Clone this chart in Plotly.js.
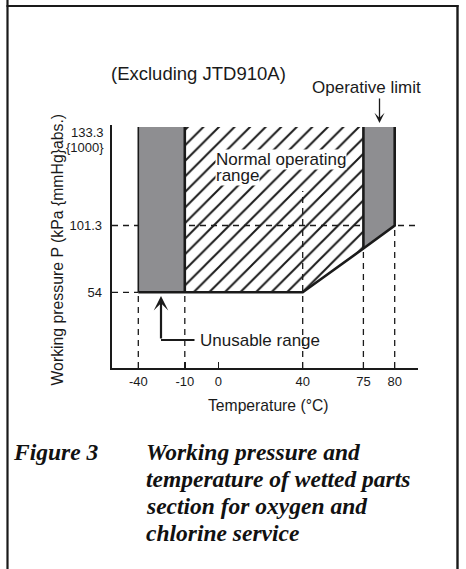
<!DOCTYPE html>
<html>
<head>
<meta charset="utf-8">
<script src="https://cdn.plot.ly/plotly-3.0.1.min.js"></script>
<style>html,body{margin:0;padding:0;background:#fff;}#chart{width:466px;height:569px;}</style>
</head>
<body>
<div id="chart"></div>
<script>
// ---- Printed tick values (the chart is schematic: axes are not to scale) ----
const tempTicks   = [-40, -10, 0, 40, 75, 80];
const tempLabels  = ['-40', '-10', '0', '40', '75', '80'];
const tempAxis    = [26.3, 72.8, 106.3, 190.7, 251.4, 282.7];   // schematic axis position of each printed tick
const pressTicks  = [54, 101.3, 133.3];
const pressLabels = ['54', '101.3', '133.3'];
const pressAxis   = [75.7, 142.5, 241];                         // schematic axis position of each printed tick

// ---- Regions (temperature °C, pressure kPa) ----
const normalT = [-10, 40, 75, 75, -10];
const normalP = [54, 54, 85, 133.3, 133.3];
const unusableLowT = [-40, -10, -10, -40];
const unusableLowP = [54, 54, 133.3, 133.3];
const operativeT = [75, 80, 80, 75];
const operativeP = [85, 101.3, 133.3, 133.3];
const boundaryT = [-40, 40, 75, 80, 80];
const boundaryP = [54, 54, 85, 101.3, 133.3];
const guideTemps = [-40, -10, 40, 75, 80];
const guideTops  = [54, 54, 112.5, 85, 101.3];

function interp(v, ks, ps) {
  let i = 0;
  while (i < ks.length - 2 && v > ks[i + 1]) i++;
  return ps[i] + (v - ks[i]) * (ps[i + 1] - ps[i]) / (ks[i + 1] - ks[i]);
}
const tx = t => interp(t, tempTicks, tempAxis);
const py = p => interp(p, pressTicks, pressAxis);

const xRange = [0, 306], yRange = [0, 243];
const L = 112, T = 125, W = 306, H = 243;
const X = p => (p - L) / W;          // pixel -> paper (for text placement)
const Y = p => (T + H - p) / H;

const ink = '#1a1a1a';
const gray = '#8e8e91';
const traces = [];

// hatched normal operating range
traces.push({
  x: normalT.map(tx), y: normalP.map(py), mode: 'lines', fill: 'toself',
  fillcolor: 'white', line: {width: 0},
  fillpattern: {shape: '/', size: 11, solidity: 0.18, fgcolor: ink, bgcolor: 'white'},
  hoverinfo: 'skip', showlegend: false
});

// dashed guide lines
const dash = {color: ink, width: 1.3, dash: '6px,5px'};
guideTemps.forEach((t, i) => {
  traces.push({x: [tx(t), tx(t)], y: [yRange[0], py(guideTops[i])], mode: 'lines', line: dash, hoverinfo: 'skip', showlegend: false});
});
traces.push({x: [xRange[0], tx(-40)], y: [py(54), py(54)], mode: 'lines', line: dash, hoverinfo: 'skip', showlegend: false});
traces.push({x: [xRange[0], xRange[1]], y: [py(101.3), py(101.3)], mode: 'lines', line: dash, hoverinfo: 'skip', showlegend: false});

// gray unusable / operative-limit regions
[[unusableLowT, unusableLowP], [operativeT, operativeP]].forEach(([ts, ps]) => {
  traces.push({x: ts.map(tx), y: ps.map(py), mode: 'lines', fill: 'toself', fillcolor: gray,
    line: {width: 0}, hoverinfo: 'skip', showlegend: false});
});

// boundary lines
const thick = {color: ink, width: 2.6};
traces.push({x: [tx(-40), tx(-40)], y: [py(54), py(133.3)], mode: 'lines', line: {color: ink, width: 1.6}, hoverinfo: 'skip', showlegend: false});
traces.push({x: [tx(-10), tx(-10)], y: [py(54), py(133.3)], mode: 'lines', line: thick, hoverinfo: 'skip', showlegend: false});
traces.push({x: [tx(75), tx(75)], y: [py(85), py(133.3)], mode: 'lines', line: thick, hoverinfo: 'skip', showlegend: false});
traces.push({x: boundaryT.map(tx), y: boundaryP.map(py), mode: 'lines', line: thick, hoverinfo: 'skip', showlegend: false});

const sans = 'Liberation Sans, Arial, Helvetica, sans-serif';
const serif = 'Liberation Serif, Times New Roman, serif';
const txt = (text, x, y, size, opts) => Object.assign({
  text, x: X(x), y: Y(y), xref: 'paper', yref: 'paper', showarrow: false,
  xanchor: 'left', yanchor: 'middle', font: {family: sans, size, color: ink}, borderpad: 0
}, opts || {});
const capFont = {family: serif, size: 23.5, color: '#111'};

const annotations = [
  txt('(Excluding JTD910A)', 110, 74, 18.5),
  txt('Operative limit', 366, 87, 17, {xanchor: 'center'}),
  {text: '', x: X(379.5), y: Y(123), xref: 'paper', yref: 'paper', showarrow: true,
   ax: 0, ay: -26, arrowhead: 3, arrowwidth: 1.3, arrowsize: 1.3, arrowcolor: ink},
  txt('range', 215, 175.5, 17, {bgcolor: 'white'}),
  txt('Normal operating', 215, 159, 17, {bgcolor: 'white'}),
  txt('Unusable range', 199, 340, 17),
  {text: '', x: X(161), y: Y(296), xref: 'paper', yref: 'paper', showarrow: true,
   ax: 0, ay: 44, arrowhead: 3, arrowwidth: 2.2, arrowsize: 1.1, arrowcolor: ink},
  txt(pressLabels[2], 105, 132.5, 13, {xanchor: 'right'}),
  txt('{1000}', 105, 147.5, 13, {xanchor: 'right'}),
  txt('Temperature (°C)', 268, 405.5, 15.7, {xanchor: 'center'}),
  txt('Working pressure P (kPa {mmHg}abs.)', 56.5, 250, 15.8, {xanchor: 'center', textangle: -90}),
  txt('<b><i>Figure 3</i></b>', 12, 452, 23.5, {font: capFont}),
  txt('<b><i>Working pressure and</i></b>', 145, 452, 23.5, {font: capFont}),
  txt('<b><i>temperature of wetted parts</i></b>', 145, 479, 23.5, {font: capFont}),
  txt('<b><i>section for oxygen and</i></b>', 145, 506, 23.5, {font: capFont}),
  txt('<b><i>chlorine service</i></b>', 145, 532.5, 23.5, {font: capFont})
];

const line = (x0, y0, x1, y1, w) => ({type: 'line', xref: 'paper', yref: 'paper',
  x0: X(x0), y0: Y(y0), x1: X(x1), y1: Y(y1), line: {color: ink, width: w}});
const shapes = [
  line(161, 340, 194.5, 340, 2.2),
  line(7.5, 0, 7.5, 569, 2.2),
  line(6.5, 6, 458.5, 6, 2.2),
  line(457.5, 5, 457.5, 569, 2.4)
];

const layout = {
  width: 466, height: 569,
  margin: {l: L, r: 466 - L - W, t: T, b: 569 - T - H, pad: 0},
  paper_bgcolor: 'white', plot_bgcolor: 'white',
  showlegend: false,
  xaxis: {
    range: xRange, showgrid: false, zeroline: false, showline: true, linecolor: ink, linewidth: 2.4,
    tickmode: 'array', tickvals: tempTicks.map(tx), ticktext: tempLabels,
    ticks: 'inside', ticklen: 6, tickwidth: 1.4, tickcolor: ink, ticklabelstandoff: 0,
    tickfont: {family: sans, size: 13, color: ink}, fixedrange: true
  },
  yaxis: {
    range: yRange, showgrid: false, zeroline: false, showline: true, linecolor: ink, linewidth: 2.4,
    tickmode: 'array', tickvals: pressTicks.slice(0, 2).map(py), ticktext: pressLabels.slice(0, 2),
    ticks: '', ticklabelstandoff: 5,
    tickfont: {family: sans, size: 13, color: ink}, fixedrange: true
  },
  annotations, shapes
};

Plotly.newPlot('chart', traces, layout, {staticPlot: true, displayModeBar: false});
</script>
</body>
</html>
